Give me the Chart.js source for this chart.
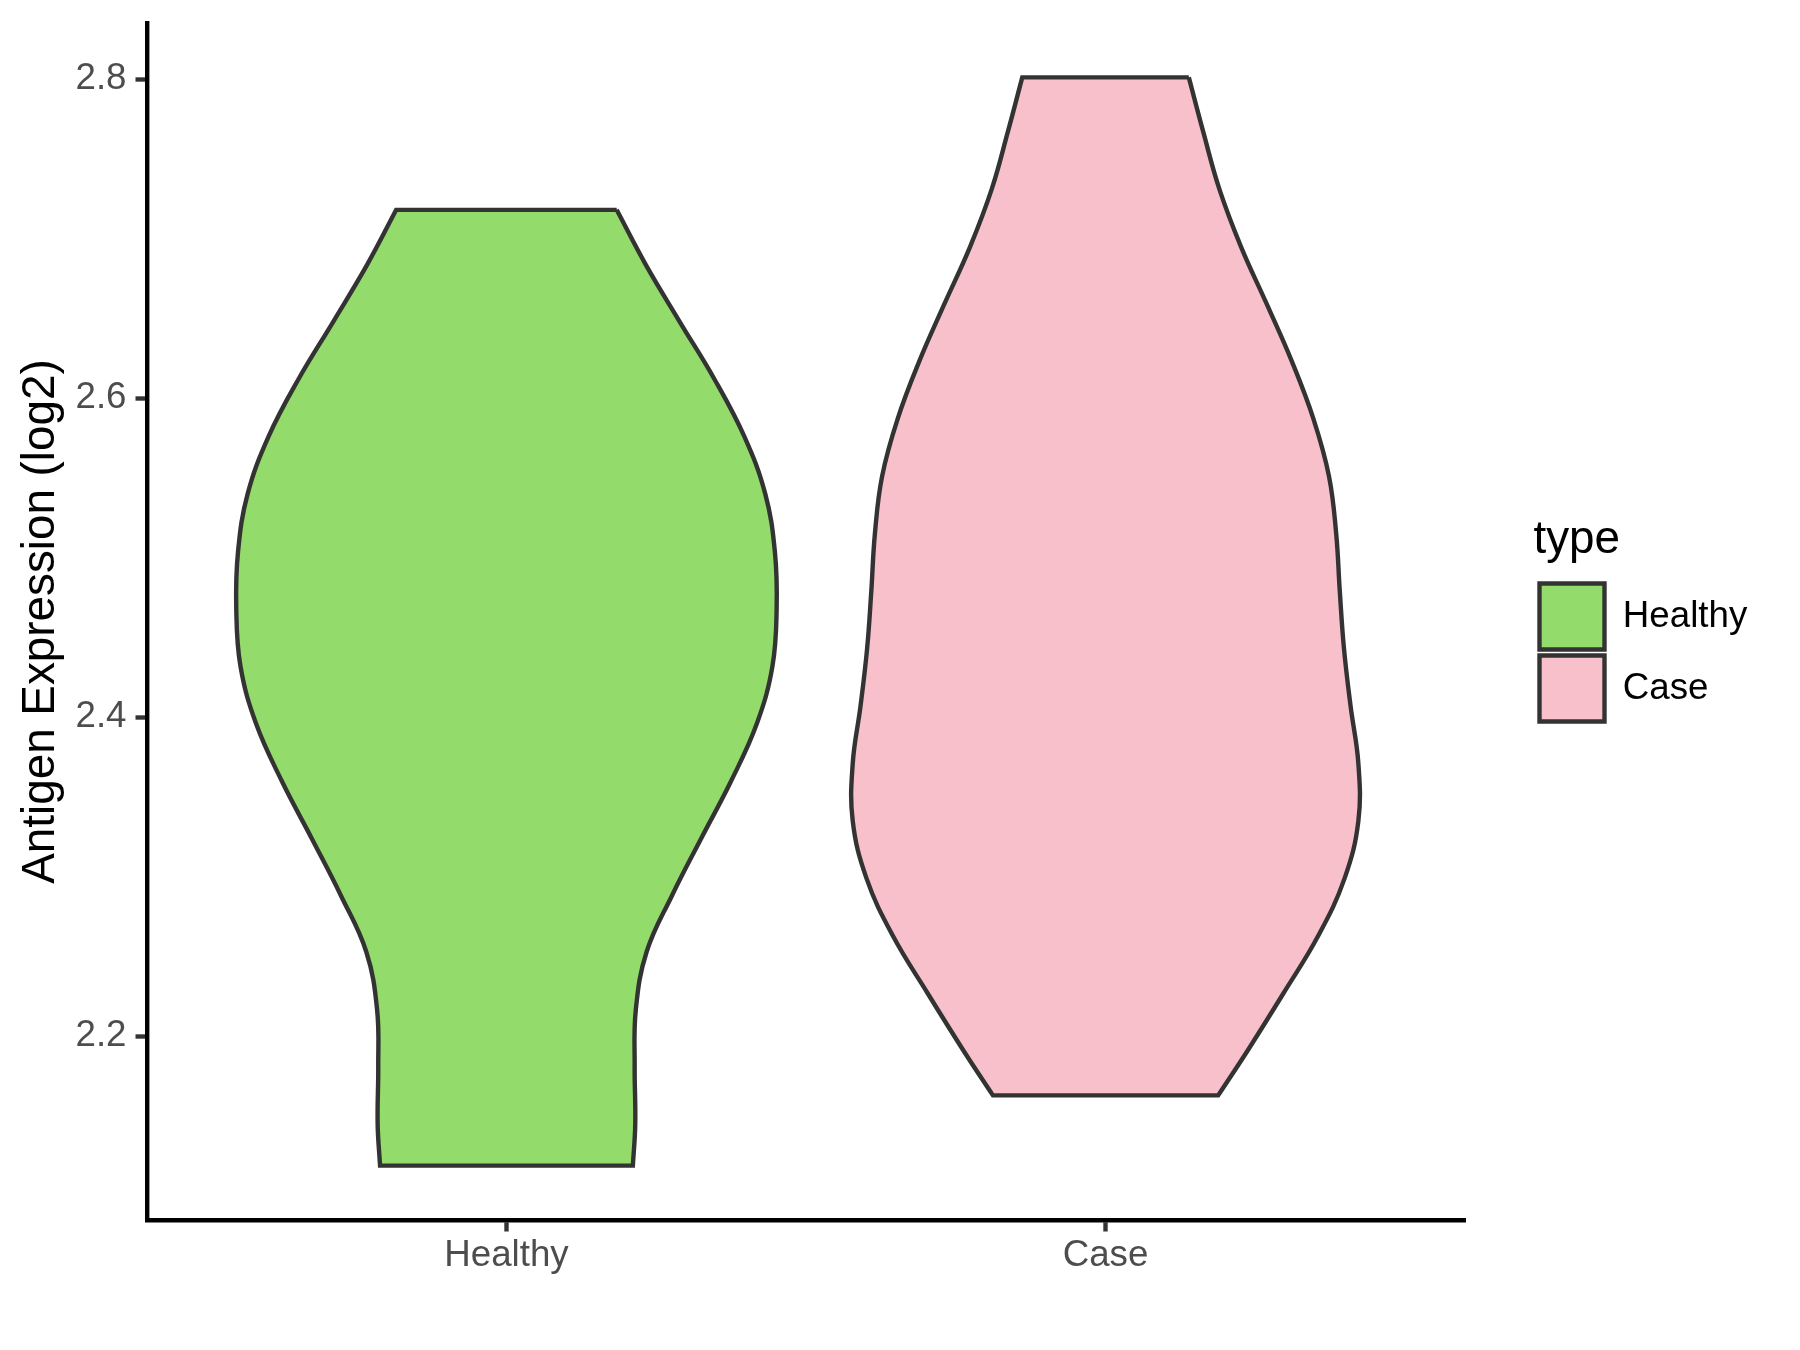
<!DOCTYPE html>
<html>
<head>
<meta charset="utf-8">
<script src="https://cdn.jsdelivr.net/npm/chart.js@4.4.1/dist/chart.umd.min.js"></script>
<style>
  html, body { margin: 0; padding: 0; background: #ffffff; }
  #wrap { width: 1800px; height: 1350px; }
</style>
</head>
<body>
<div id="wrap"><canvas id="c" width="1800" height="1350"></canvas></div>
<script>
// ---- data ----
const categories = ['Healthy', 'Case'];

// Healthy violin: expression values (top -> bottom) and half-widths (category units)
const healthyValues = [2.718, 2.684, 2.648, 2.612, 2.576, 2.540, 2.504, 2.468, 2.432, 2.396,
                       2.360, 2.324, 2.288, 2.253, 2.217, 2.181, 2.145, 2.119];
const healthyHalfWidths = [0.184, 0.232, 0.289, 0.347, 0.397, 0.432, 0.448, 0.451, 0.444, 0.418,
                           0.375, 0.325, 0.276, 0.234, 0.216, 0.214, 0.215, 0.211];

// Case violin
const caseValues = [2.801, 2.767, 2.731, 2.695, 2.659, 2.623, 2.587, 2.551, 2.515, 2.479,
                    2.443, 2.407, 2.371, 2.335, 2.299, 2.263, 2.227, 2.191, 2.163];
const caseHalfWidths = [0.139, 0.163, 0.190, 0.226, 0.269, 0.311, 0.347, 0.373, 0.385, 0.391,
                        0.398, 0.409, 0.422, 0.422, 0.399, 0.355, 0.297, 0.237, 0.188];

const yTickValues = [2.2, 2.4, 2.6, 2.8];
const fillColors = ['#93DB6A', '#F7C0CB'];

// ---- helpers ----
const FONT = "'Liberation Sans', Arial, Helvetica, sans-serif";
Chart.defaults.font.family = FONT;

function violinOutline(center, values, halfWidths) {
  const n = values.length;
  const pts = [];
  for (let i = 0; i < n; i++) pts.push({ x: center + halfWidths[i], y: values[i] });
  pts.push({ x: center + halfWidths[n - 1], y: values[n - 1] });
  for (let i = n - 1; i >= 0; i--) {
    pts.push({ x: center - halfWidths[i], y: values[i] });
    if (i === n - 1 || i === 0) pts.push({ x: center - halfWidths[i], y: values[i] });
  }
  pts.push({ x: center + halfWidths[0], y: values[0] });
  return pts;
}

const allValues = healthyValues.concat(caseValues);
const vLo = Math.min(...allValues), vHi = Math.max(...allValues);
const vPad = (vHi - vLo) * 0.05;

const LINE_W = 4.4;
const PLOT_LEFT = 147, PLOT_BOTTOM = 1220, PLOT_RIGHT = 1465, PLOT_TOP = 23;

const legendPlacer = {
  id: 'legendPlacer',
  beforeLayout(chart) {
    const lg = chart.legend;
    if (lg && !lg.__fixed) {
      const origFit = lg.fit;
      lg.fit = function () { origFit.call(this); this.width = 1800 - PLOT_RIGHT; };
      lg.__fixed = true;
    }
  },
  afterLayout(chart) {
    const lg = chart.legend;
    if (!lg) return;
    lg.left = 1533.5; lg.right = 1800;
    lg.top = 24; lg.bottom = 1221;
  }
};

const violinDataset = (i, values, halfWidths) => ({
  label: categories[i],
  data: violinOutline(i + 1, values, halfWidths),
  backgroundColor: fillColors[i],
  borderColor: '#333333',
  borderWidth: LINE_W,
  borderJoinStyle: 'miter',
  fill: 'shape',
  tension: 0.4,
  pointRadius: 0,
  pointHoverRadius: 0,
  pointHitRadius: 0
});

const tickGrid = {
  display: true, drawOnChartArea: false, drawTicks: true,
  tickLength: 11.5, tickWidth: LINE_W, tickColor: '#333333', color: '#333333'
};

new Chart(document.getElementById('c').getContext('2d'), {
  type: 'line',
  data: {
    datasets: [
      violinDataset(0, healthyValues, healthyHalfWidths),
      violinDataset(1, caseValues, caseHalfWidths)
    ]
  },
  options: {
    responsive: false,
    animation: false,
    devicePixelRatio: 1,
    events: [],
    layout: { padding: { top: PLOT_TOP, left: 0, right: 0, bottom: 0 } },
    plugins: {
      tooltip: { enabled: false },
      legend: {
        display: true,
        position: 'right',
        align: 'center',
        title: {
          display: true, text: 'type', color: '#000000', position: 'start',
          font: { family: FONT, size: 45.8 }, padding: { top: 0, bottom: 5 }
        },
        labels: {
          boxWidth: 65, boxHeight: 66, padding: 6, color: '#000000',
          font: { family: FONT, size: 36.7 }
        }
      }
    },
    scales: {
      x: {
        type: 'linear',
        min: 0.4, max: 2.6,
        afterBuildTicks: s => { s.ticks = categories.map((_, i) => ({ value: i + 1 })); },
        afterFit: s => { s.height = 1350 - PLOT_BOTTOM; s.paddingLeft = 0; s.paddingRight = 0; },
        grid: tickGrid,
        border: { display: true, color: '#000000', width: LINE_W },
        ticks: {
          autoSkip: false, maxRotation: 0, minRotation: 0, padding: 2,
          color: '#4D4D4D', font: { family: FONT, size: 36.7 },
          callback: v => categories[Math.round(v) - 1] || ''
        }
      },
      y: {
        type: 'linear',
        min: vLo - vPad, max: vHi + vPad,
        afterBuildTicks: s => { s.ticks = yTickValues.map(v => ({ value: v })); },
        afterFit: s => { s.width = PLOT_LEFT; s.paddingTop = 0; s.paddingBottom = 0; },
        grid: tickGrid,
        border: { display: true, color: '#000000', width: LINE_W },
        ticks: {
          padding: 9, color: '#4D4D4D', font: { family: FONT, size: 36.7 },
          callback: v => Number(v).toFixed(1)
        },
        title: {
          display: true, text: 'Antigen Expression (log2)', color: '#000000',
          font: { family: FONT, size: 45.8 }, padding: { top: 13.5, bottom: 0 }
        }
      }
    }
  },
  plugins: [legendPlacer]
});
</script>
</body>
</html>
